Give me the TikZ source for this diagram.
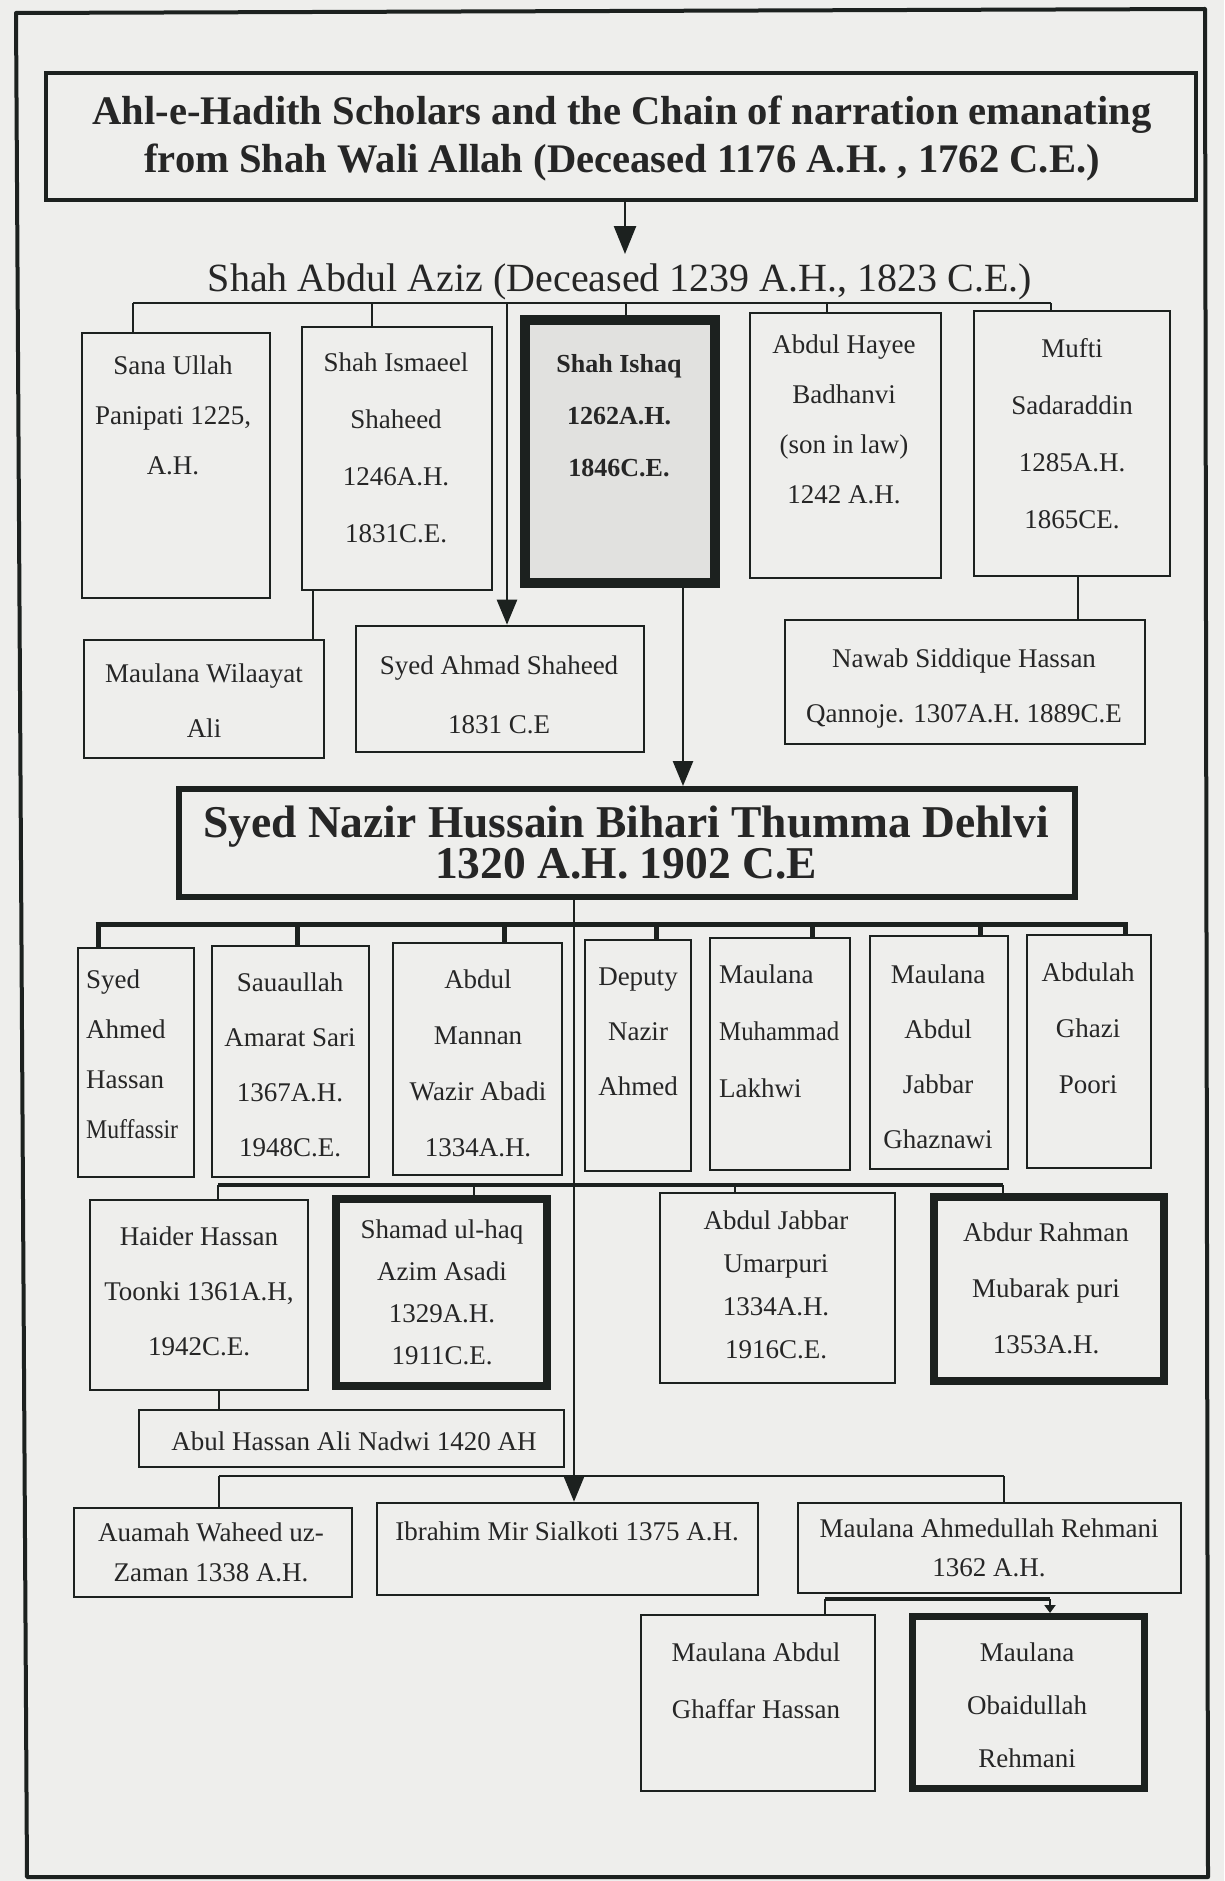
\documentclass[tikz,border=0pt]{standalone}
\usepackage{graphicx}
\usepackage{fontspec}
\setmainfont{Liberation Serif}
\usetikzlibrary{arrows.meta,fit}
\definecolor{ink}{HTML}{1C211F}
\definecolor{paper}{HTML}{EEEEEC}
\definecolor{shade}{HTML}{E1E1DF}
\definecolor{txt}{HTML}{262626}
% horizontally squeezed word, for names that are set tight in their boxes
\newcommand{\squeeze}[2]{\scalebox{#1}[1]{#2}}

\begin{document}
\begin{tikzpicture}[x=1pt,y=-1pt,
  box/.style={draw=ink, line width=2.6pt, inner sep=0pt},
  link/.style={draw=ink, line width=2.6pt},
  boldlink/.style={draw=ink, line width=5pt},
  arrowlink/.style={link, -{Triangle[width=20pt,length=25pt]}},
  lbl/.style={inner sep=0pt, align=center, text=txt, font=\fontsize{27}{#1}\selectfont},
  lbl/.default=53,
  lbll/.style={lbl=#1, align=left},
  lbll/.default=53
]
% page and frame
\fill[paper] (0,0) rectangle (1224,1881);
\useasboundingbox (0,0) rectangle (1224,1881);
\draw[ink, line width=4pt, line join=round] (16,13) -- (1205,9) -- (1208,1877) -- (27,1877) -- cycle;

% heading
\node[box, line width=4.5pt, fit={(46,73) (1196,200)}] (title) {};
\node[inner sep=0pt, align=center, text=txt, font=\bfseries\fontsize{40.6}{48}\selectfont, anchor=north]
  (titletext) at (622,96) {Ahl-e-Hadith Scholars and the Chain of narration emanating\\from Shah Wali Allah (Deceased 1176 A.H. , 1762 C.E.)};

\node[inner sep=0pt, text=txt, font=\fontsize{40}{48}\selectfont, anchor=base]
  (aziz) at (620,291) {Shah Abdul Aziz (Deceased 1239 A.H., 1823 C.E.)};
\coordinate (azizin) at (625,254);
\draw[link, -{Triangle[width=22pt,length=28pt]}] ([xshift=4pt]title.south) -- (azizin);

% first generation
\node[box, fit={(82,333) (270,598)}] (sana) {};
\node[box, fit={(302,327) (492,590)}] (ismaeel) {};
\node[box, line width=10pt, fill=shade, fit={(525,320) (715,583)}] (ishaq) {};
\node[box, fit={(750,313) (941,578)}] (hayee) {};
\node[box, fit={(974,311) (1170,576)}] (mufti) {};

\node[lbl=50, anchor=north] (sanaT) at (173,356) {Sana Ullah\\Panipati 1225,\\A.H.};
\node[lbl=57, anchor=north] (ismaeelT) at (396,353) {Shah Ismaeel\\Shaheed\\1246A.H.\\1831C.E.};
\node[lbl, font=\bfseries\fontsize{26}{52}\selectfont, anchor=north] (ishaqT) at (619,354) {Shah Ishaq\\1262A.H.\\1846C.E.};
\node[lbl=50, anchor=north] (hayeeT) at (844,335) {Abdul Hayee\\Badhanvi\\(son in law)\\1242 A.H.};
\node[lbl=57, anchor=north] (muftiT) at (1072,338) {Mufti\\Sadaraddin\\1285A.H.\\1865CE.};

\coordinate (b1l) at (133,303);
\coordinate (b1b) at (372,303);
\coordinate (b1c) at (507,303);
\coordinate (b1d) at (626,303);
\coordinate (b1e) at (827,303);
\coordinate (b1r) at (1051,303);
\draw[link] (b1l) -- (b1r);
\draw[link] (b1l) -- (b1l |- sana.north);
\draw[link] (b1b) -- (b1b |- ismaeel.north);
\draw[link] (b1d) -- (b1d |- ishaq.north);
\draw[link] (b1e) -- (b1e |- hayee.north);
\draw[link] (b1r) -- (b1r |- mufti.north);

% second generation
\node[box, fit={(84,640) (324,758)}] (wil) {};
\node[box, fit={(356,626) (644,752)}] (sas) {};
\node[box, fit={(785,620) (1145,744)}] (nawab) {};

\node[lbl=55, anchor=north] (wilT) at (204,664) {Maulana Wilaayat\\Ali};
\node[lbl=59, anchor=north] (sasT) at (499,656) {Syed Ahmad Shaheed\\1831 C.E};
\node[lbl=55, anchor=north] (nawabT) at (964,649) {Nawab Siddique Hassan\\Qannoje. 1307A.H. 1889C.E};

\draw[arrowlink] (b1c) -- (b1c |- sas.north);
\draw[link] ([xshift=-84pt]ismaeel.south) -- ([xshift=-84pt]ismaeel.south |- wil.north);
\draw[link] ([xshift=6pt]mufti.south) -- ([xshift=6pt]mufti.south |- nawab.north);

% central teacher
\node[box, line width=6pt, fit={(179,789) (1075,897)}] (nazir) {};
\node[inner sep=0pt, align=center, text=txt, font=\bfseries\fontsize{45.5}{38}\selectfont, anchor=north]
  (nazirT) at (626,806) {Syed Nazir Hussain Bihari Thumma Dehlvi\\1320 A.H. 1902 C.E};
\draw[arrowlink] ([xshift=63pt]ishaq.south) -- ([xshift=63pt]ishaq.south |- nazir.north);

% third generation
\node[box, fit={(78,948) (194,1177)}] (sahm) {};
\node[box, fit={(212,946) (369,1177)}] (sau) {};
\node[box, fit={(393,943) (562,1175)}] (mannan) {};
\node[box, fit={(585,940) (691,1171)}] (deputy) {};
\node[box, fit={(710,938) (850,1170)}] (lakhwi) {};
\node[box, fit={(870,936) (1008,1169)}] (ghaznawi) {};
\node[box, fit={(1027,935) (1151,1168)}] (ghazi) {};

\node[lbll=50, anchor=north west] (sahmT) at (86,970) {Syed\\Ahmed\\Hassan\\\squeeze{0.88}{Muffassir}};
\node[lbl=55, anchor=north] (sauT) at (290,973) {Sauaullah\\Amarat Sari\\1367A.H.\\1948C.E.};
\node[lbl=56, anchor=north] (mannanT) at (478,970) {Abdul\\Mannan\\Wazir Abadi\\1334A.H.};
\node[lbl=55, anchor=north] (deputyT) at (638,968) {Deputy\\Nazir\\Ahmed};
\node[lbll=57, anchor=north west] (lakhwiT) at (719,965) {Maulana\\\squeeze{0.92}{Muhammad}\\Lakhwi};
\node[lbl=55, anchor=north] (ghaznawiT) at (938,965) {Maulana\\Abdul\\Jabbar\\Ghaznawi};
\node[lbl=56, anchor=north] (ghaziT) at (1088,963) {Abdulah\\Ghazi\\Poori};

\coordinate (b3l) at (98,924);
\coordinate (b3b) at (297,924);
\coordinate (b3c) at (504,924);
\coordinate (b3d) at (656,924);
\coordinate (b3e) at (812,924);
\coordinate (b3f) at (980,924);
\coordinate (b3r) at (1125,924);
\draw[boldlink] ([xshift=-2.5pt]b3l) -- ([xshift=2.5pt]b3r);
\draw[boldlink] (b3l) -- (b3l |- sahm.north);
\draw[boldlink] (b3b) -- (b3b |- sau.north);
\draw[boldlink] (b3c) -- (b3c |- mannan.north);
\draw[boldlink] (b3d) -- (b3d |- deputy.north);
\draw[boldlink] (b3e) -- (b3e |- lakhwi.north);
\draw[boldlink] (b3f) -- (b3f |- ghaznawi.north);
\draw[boldlink] (b3r) -- (b3r |- ghazi.north);

% fourth generation
\node[box, fit={(90,1200) (308,1390)}] (haider) {};
\node[box, line width=8pt, fit={(336,1199) (547,1386)}] (shamad) {};
\node[box, fit={(660,1193) (895,1383)}] (umar) {};
\node[box, line width=8pt, fit={(934,1197) (1164,1381)}] (mubarak) {};

\node[lbl=55, anchor=north] (haiderT) at (199,1227) {Haider Hassan\\Toonki 1361A.H,\\1942C.E.};
\node[lbl=42, anchor=north] (shamadT) at (442,1220) {Shamad ul-haq\\Azim Asadi\\1329A.H.\\1911C.E.};
\node[lbl=43, anchor=north] (umarT) at (776,1211) {Abdul Jabbar\\Umarpuri\\1334A.H.\\1916C.E.};
\node[lbl=56, anchor=north] (mubarakT) at (1046,1223) {Abdur Rahman\\Mubarak puri\\1353A.H.};

\coordinate (b4l) at (218,1185);
\coordinate (b4b) at (474,1185);
\coordinate (b4c) at (735,1185);
\coordinate (b4r) at (1003,1185);
\draw[link, line width=3.5pt] (b4l) -- (b4r);
\draw[link] (b4l) -- (b4l |- haider.north);
\draw[link] (b4b) -- (b4b |- shamad.north);
\draw[link] (b4c) -- (b4c |- umar.north);
\draw[link] (b4r) -- (b4r |- mubarak.north);

\node[box, fit={(139,1410) (564,1467)}] (nadwi) {};
\node[lbl, anchor=north] (nadwiT) at (354,1432) {Abul Hassan Ali Nadwi 1420 AH};
\draw[link] ([xshift=20pt]haider.south) -- ([xshift=20pt]haider.south |- nadwi.north);

% fifth generation
\node[box, fit={(74,1508) (352,1597)}] (auamah) {};
\node[box, fit={(377,1503) (758,1595)}] (ibrahim) {};
\node[box, fit={(798,1503) (1181,1593)}] (ahmed) {};

\node[lbl=40, anchor=north] (auamahT) at (211,1523) {Auamah Waheed uz-\\Zaman 1338 A.H.};
\node[lbl, anchor=north] (ibrahimT) at (567,1522) {Ibrahim Mir Sialkoti 1375 A.H.};
\node[lbl=39, anchor=north] (ahmedT) at (989,1519) {Maulana Ahmedullah Rehmani\\1362 A.H.};

\coordinate (b5l) at (219,1476);
\coordinate (b5r) at (1004,1476);
\draw[link] (b5l) -- (b5r);
\draw[link] (b5l) -- (b5l |- auamah.north);
\draw[link] (b5r) -- (b5r |- ahmed.north);
\draw[arrowlink, line width=2.2pt] ([xshift=-53pt]nazir.south) -- ([xshift=-53pt]nazir.south |- ibrahim.north);

% sixth generation
\node[box, fit={(641,1615) (875,1791)}] (ghaffar) {};
\node[box, line width=7pt, fit={(912.5,1616.5) (1144.5,1788.5)}] (obaid) {};

\node[lbl=57, anchor=north] (ghaffarT) at (756,1643) {Maulana Abdul\\Ghaffar Hassan};
\node[lbl=53, anchor=north] (obaidT) at (1027,1643) {Maulana\\Obaidullah\\Rehmani};

\coordinate (b6l) at (825,1599);
\coordinate (b6r) at (1050,1599);
\draw[link, line width=3.5pt] (b6l) -- (b6r);
\draw[link] (b6l) -- (b6l |- ghaffar.north);
\draw[link, -{Triangle[width=11pt,length=8pt]}] (b6r) -- (b6r |- obaid.north);
\end{tikzpicture}
\end{document}
